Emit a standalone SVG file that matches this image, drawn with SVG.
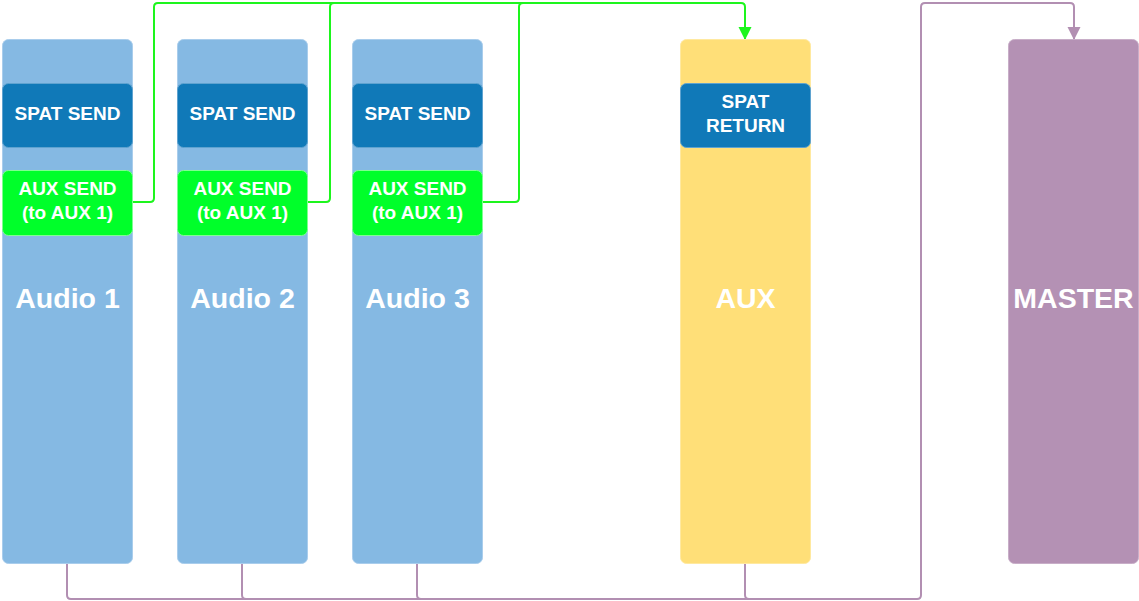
<svg xmlns="http://www.w3.org/2000/svg" width="1139" height="601" viewBox="0 0 1139 601">
<style>
.col{fill:#85b9e3;stroke:#a9cdec;stroke-width:1}
.spat{fill:#1079b8;stroke:#5fa3d0;stroke-width:1}
.aux{fill:#00ff2a;stroke:#7fff90;stroke-width:1}
.t{font-family:"Liberation Sans",Arial,sans-serif;font-weight:bold;fill:#ffffff;text-anchor:middle}
.big{font-size:28.5px}
.sm{font-size:19px}
.g{fill:none;stroke:#1df51d;stroke-width:2;stroke-linejoin:round}
.p{fill:none;stroke:#b28fb2;stroke-width:2;stroke-linejoin:round}
</style>
<defs>
<marker id="ag" markerWidth="14" markerHeight="14" refX="12" refY="6.5" orient="auto" markerUnits="userSpaceOnUse"><path d="M0,0 L13,6.5 L0,13 Z" fill="#1df51d"/></marker>
<marker id="ap" markerWidth="14" markerHeight="14" refX="12" refY="6.5" orient="auto" markerUnits="userSpaceOnUse"><path d="M0,0 L13,6.5 L0,13 Z" fill="#b28fb2"/></marker>
</defs>
<g id="connectors">
<path class="p" d="M67,563 V595 Q67,599 71,599 H917 Q921,599 921,595 V7 Q921,3 925,3 H1070 Q1074,3 1074,7 V39" marker-end="url(#ap)"/>
<path class="p" d="M242,563 V595 Q242,599 246,599"/>
<path class="p" d="M417,563 V595 Q417,599 421,599"/>
<path class="p" d="M745,563 V595 Q745,599 749,599"/>
<path class="g" d="M132,202 H150 Q154,202 154,198 V7 Q154,3 158,3 H741 Q745,3 745,7 V39" marker-end="url(#ag)"/>
<path class="g" d="M307,202 H326 Q330,202 330,198 V7 Q330,3 334,3"/>
<path class="g" d="M482,202 H515 Q519,202 519,198 V7 Q519,3 523,3"/>
</g>
<g id="audio1">
<rect class="col" x="2.5" y="39.5" width="130" height="524" rx="6"/>
<rect class="spat" x="2.5" y="83.5" width="130" height="64" rx="6"/>
<text class="t sm" x="67.5" y="120">SPAT SEND</text>
<rect class="aux" x="2.5" y="170.5" width="130" height="65" rx="6"/>
<text class="t sm" x="67.5" y="195">AUX SEND</text>
<text class="t sm" x="67.5" y="219">(to AUX 1)</text>
<text class="t big" x="67.5" y="308">Audio 1</text>
</g>
<g id="audio2">
<rect class="col" x="177.5" y="39.5" width="130" height="524" rx="6"/>
<rect class="spat" x="177.5" y="83.5" width="130" height="64" rx="6"/>
<text class="t sm" x="242.5" y="120">SPAT SEND</text>
<rect class="aux" x="177.5" y="170.5" width="130" height="65" rx="6"/>
<text class="t sm" x="242.5" y="195">AUX SEND</text>
<text class="t sm" x="242.5" y="219">(to AUX 1)</text>
<text class="t big" x="242.5" y="308">Audio 2</text>
</g>
<g id="audio3">
<rect class="col" x="352.5" y="39.5" width="130" height="524" rx="6"/>
<rect class="spat" x="352.5" y="83.5" width="130" height="64" rx="6"/>
<text class="t sm" x="417.5" y="120">SPAT SEND</text>
<rect class="aux" x="352.5" y="170.5" width="130" height="65" rx="6"/>
<text class="t sm" x="417.5" y="195">AUX SEND</text>
<text class="t sm" x="417.5" y="219">(to AUX 1)</text>
<text class="t big" x="417.5" y="308">Audio 3</text>
</g>
<g id="aux">
<rect x="680.5" y="39.5" width="130" height="524" rx="6" fill="#ffdf78" stroke="#ffe9a0" stroke-width="1"/>
<rect class="spat" x="680.5" y="83.5" width="130" height="64" rx="6"/>
<text class="t sm" x="745.5" y="108">SPAT</text>
<text class="t sm" x="745.5" y="132">RETURN</text>
<text class="t big" x="745.5" y="308">AUX</text>
</g>
<g id="master">
<rect x="1008.5" y="39.5" width="130" height="524" rx="6" fill="#b491b4" stroke="#c8aec8" stroke-width="1"/>
<text class="t big" x="1073.5" y="308">MASTER</text>
</g>
</svg>
